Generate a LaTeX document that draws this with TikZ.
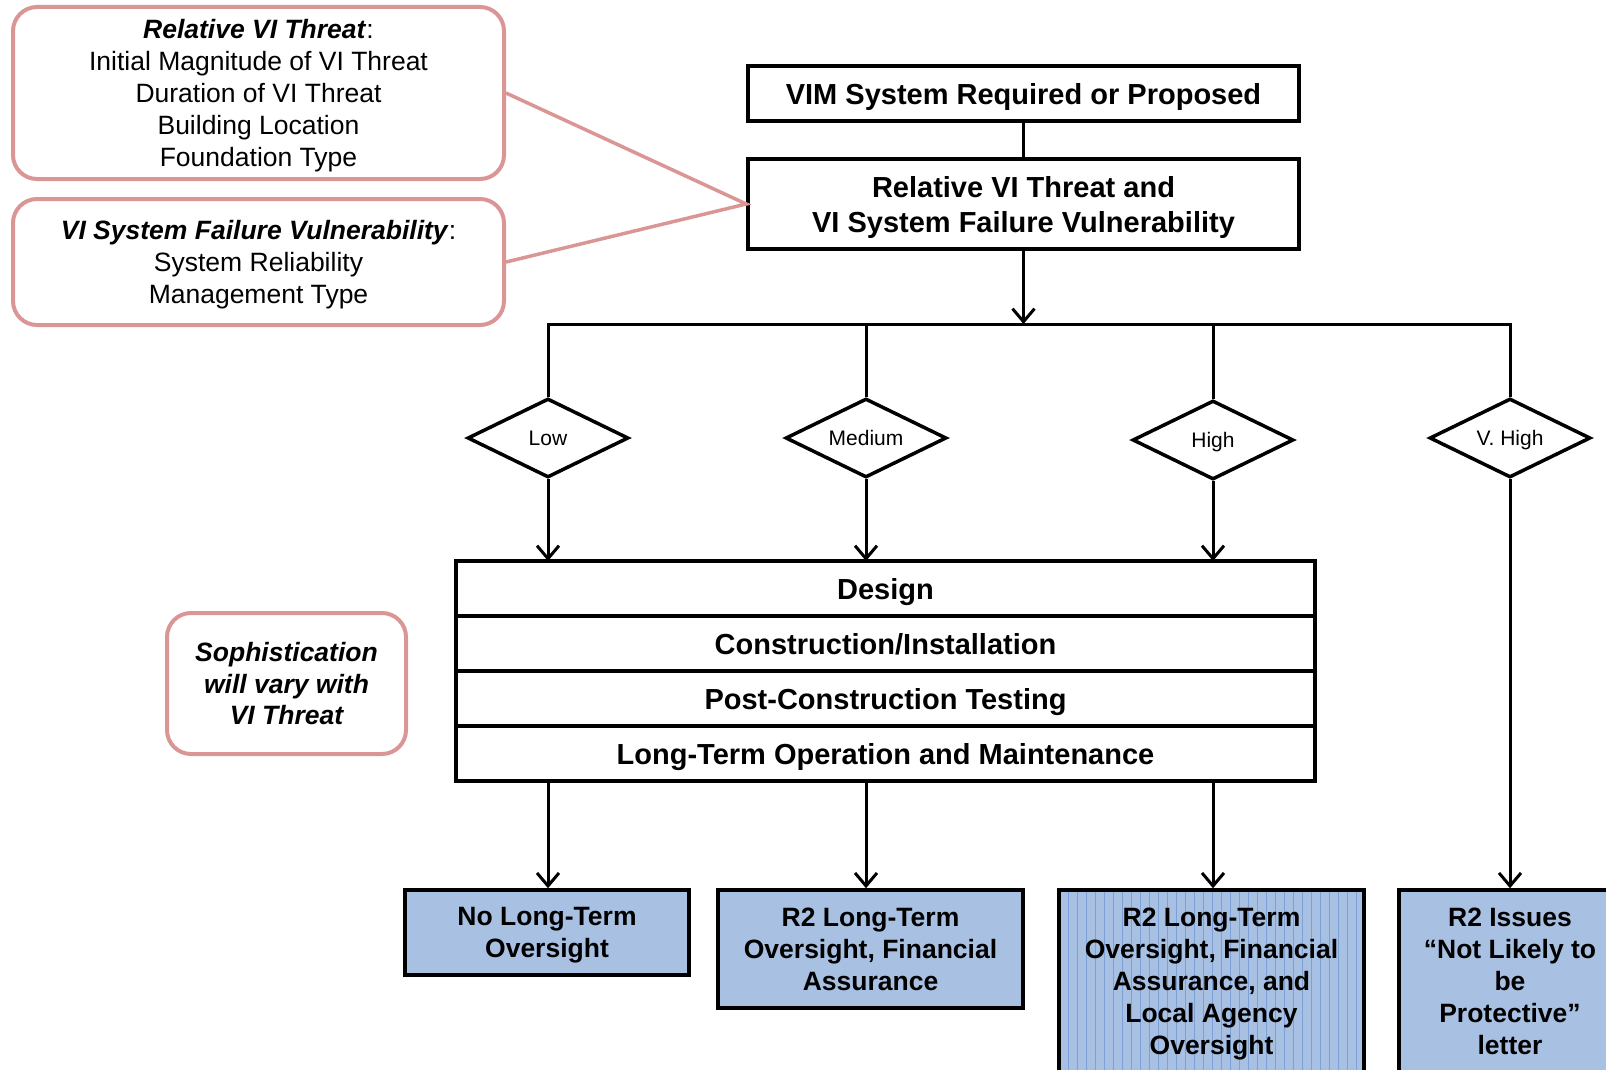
\documentclass[tikz,border=0pt]{standalone}
\usepackage{fontspec}
\setmainfont{Liberation Sans}
\usetikzlibrary{shapes.geometric,arrows.meta,positioning}
\definecolor{pinkline}{RGB}{217,150,148}
\definecolor{boxblue}{RGB}{168,192,226}
\definecolor{stripeblue}{RGB}{125,160,215}
\tikzset{
  plainbox/.style={draw,line width=3.5pt,minimum width=551pt,align=center,inner sep=0pt,text depth=0pt,font=\fontsize{29}{35}\selectfont\bfseries},
  notebox/.style={draw=pinkline,line width=4pt,rounded corners=24pt,align=center,inner sep=0pt,text depth=0pt,font=\fontsize{26.5}{32}\selectfont},
  choice/.style={draw,diamond,shape aspect=2,line width=3.5pt,minimum width=161pt,minimum height=79pt,inner sep=0pt,text depth=0pt,font=\fontsize{21}{25}\selectfont},
  stage/.style={draw,line width=3.5pt,minimum width=859pt,minimum height=55pt,inner sep=0pt,outer sep=0pt,text depth=0pt,font=\fontsize{29}{35}\selectfont\bfseries},
  outcome/.style={draw,fill=boxblue,line width=3.5pt,align=center,inner sep=0pt,text depth=0pt,font=\fontsize{26.5}{32}\selectfont\bfseries},
  flow/.style={line width=3pt,-{Straight Barb[length=13pt,width=22pt]}},
  link/.style={line width=3pt},
}
\begin{document}
\begin{tikzpicture}[x=1pt,y=-1pt]
\useasboundingbox (0,0) rectangle (1606,1070);
% main column
\node[plainbox,minimum height=55pt] (vim) at (1023.5,93.5) {VIM System Required or Proposed};
\node[plainbox,minimum height=90pt] (threat) at (1023.5,204) {Relative VI Threat and\\VI System Failure Vulnerability};
\coordinate (fork) at (1023.5,324);
% threat levels
\node[choice] (low) at (548,438) {Low};
\node[choice] (med) at (866,438) {Medium};
\node[choice] (high) at (1213,440) {High};
\node[choice] (vhigh) at (1510,438) {V. High};
% stages
\node[stage] (design) at (885.5,588.5) {Design};
\node[stage,below=0pt of design] (build) {Construction/Installation};
\node[stage,below=0pt of build] (test) {Post-Construction Testing};
\node[stage,below=0pt of test] (om) {Long-Term Operation and Maintenance};
% outcomes
\node[outcome,minimum width=284pt,minimum height=85pt] (none) at (547,932.5) {No Long-Term\\Oversight};
\node[outcome,minimum width=305pt,minimum height=118pt] (fin) at (870.5,949) {R2 Long-Term\\Oversight, Financial\\Assurance};
\node[outcome,minimum width=305pt,minimum height=182pt,
  path picture={\foreach \i in {1,...,33}
    \draw[stripeblue,line width=0.8pt] ([xshift=\i*9pt]path picture bounding box.north west) -- ([xshift=\i*9pt]path picture bounding box.south west);}]
  (local) at (1211.5,981) {R2 Long-Term\\Oversight, Financial\\Assurance, and\\Local Agency\\Oversight};
\node[outcome,minimum width=222pt,minimum height=182pt] (letter) at (1510,981) {R2 Issues\\“Not Likely to\\be\\Protective”\\letter};
% notes
\node[notebox,minimum width=491pt,minimum height=172pt] (rvt) at (258.5,93) {\textbf{\textit{Relative VI Threat}}:\\Initial Magnitude of VI Threat\\Duration of VI Threat\\Building Location\\Foundation Type};
\node[notebox,minimum width=491pt,minimum height=126pt] (sfv) at (258.5,262) {\textbf{\textit{VI System Failure Vulnerability}}:\\System Reliability\\Management Type};
\node[notebox,minimum width=239pt,minimum height=141pt,font=\fontsize{26.5}{31.5}\selectfont\bfseries\itshape] (soph) at (286.5,683.5) {Sophistication\\will vary with\\VI Threat};
% connectors
\draw[link] (vim) -- (threat);
\draw[flow] (threat) -- (fork);
\draw[link] (low.north) -- (low.north |- fork) -- (vhigh.north |- fork) -- (vhigh.north);
\foreach \d in {med,high}
  \draw[link] (\d.north |- fork) -- (\d.north);
\foreach \d in {low,med,high}
  \draw[flow] (\d.south) -- (\d.south |- design.north);
\draw[flow] (low |- om.south) -- (low |- none.north);
\draw[flow] (med |- om.south) -- (med |- fin.north);
\draw[flow] (high |- om.south) -- (high |- local.north);
\draw[flow] (vhigh.south) -- (vhigh |- letter.north);
\draw[pinkline,line width=3.5pt] (rvt.east) -- (threat.west) -- (sfv.east);
\end{tikzpicture}
\end{document}
